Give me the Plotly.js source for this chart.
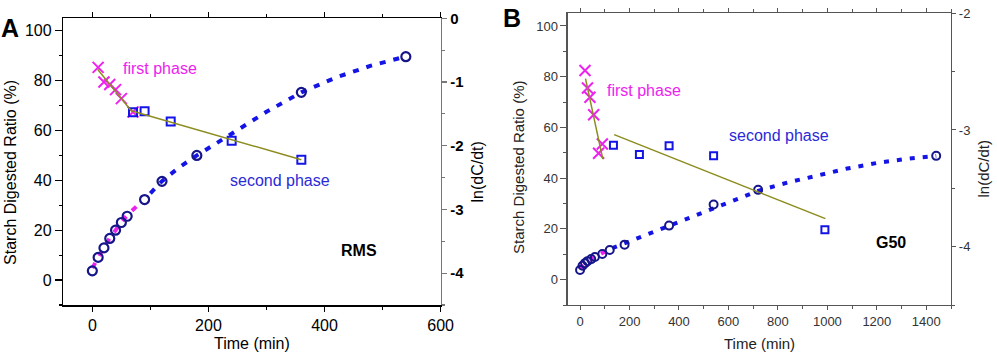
<!DOCTYPE html>
<html>
<head>
<meta charset="utf-8">
<script src="https://cdn.plot.ly/plotly-3.0.1.min.js"></script>
<style>html,body{margin:0;padding:0;background:#fff;}#chart{width:997px;height:352px;}</style>
</head>
<body>
<div id="chart"></div>
<script>
// ---------- Panel A (RMS) ----------
const timeA = [0, 10, 20, 30, 40, 50, 60, 90, 120, 180, 360, 540];
const ratioA = [3.7, 9.1, 12.9, 16.7, 20.0, 23.1, 25.6, 32.3, 39.6, 50.0, 75.3, 89.6];
const fit1TimeA = [0, 10, 20, 30, 40, 50, 60, 70, 85];
const fit1RatioA = [4.8, 9.2, 13.2, 16.8, 20.2, 23.2, 26.0, 28.3, 31.5];
const fit2TimeA = [100, 120, 150, 180, 240, 300, 360, 420, 480, 540];
const fit2RatioA = [34.8, 39.7, 45.3, 50.0, 58.7, 67.5, 75.3, 81.3, 86.0, 89.7];
const crossTimeA = [10, 20, 30, 40, 50, 70];
const crossLnA = [-0.77, -1.0, -1.04, -1.12, -1.26, -1.47];
const squareTimeA = [70, 90, 135, 240, 360];
const squareLnA = [-1.475, -1.46, -1.62, -1.92, -2.22];
const line1TimeA = [9, 67];
const line1LnA = [-0.80, -1.45];
const line2TimeA = [67, 360];
const line2LnA = [-1.45, -2.22];
const rightTicksA = [0, -1, -2, -3, -4];
const rightTickTextA = ['0', '-1', '-2', '-3', '-4'];

// ---------- Panel B (G50) ----------
const timeB = [0, 10, 20, 30, 45, 60, 90, 120, 180, 360, 540, 720, 1440];
const ratioB = [3.8, 5.5, 6.5, 7.3, 8.1, 8.9, 10.1, 11.7, 13.8, 21.3, 29.6, 35.4, 48.8];
const fit1TimeB = [0, 15, 30, 45, 60, 90, 120];
const fit1RatioB = [4.3, 5.9, 7.1, 8.1, 9.0, 10.5, 12.0];
const fit2TimeB = [130, 180, 240, 300, 360, 420, 480, 540, 600, 660, 720, 840, 960, 1080, 1200, 1320, 1440];
const fit2RatioB = [12.4, 14.3, 16.6, 18.9, 21.2, 23.5, 25.8, 28.1, 30.4, 32.7, 35.0, 38.3, 41.2, 43.8, 46.0, 47.6, 48.8];
const crossTimeB = [20, 30, 40, 55, 75, 90];
const crossLnB = [-2.49, -2.64, -2.72, -2.87, -3.20, -3.12];
const squareTimeB = [135, 240, 360, 540, 990];
const squareLnB = [-3.13, -3.21, -3.136, -3.22, -3.855];
const line1TimeB = [22, 92];
const line1LnB = [-2.56, -3.25];
const line2TimeB = [138, 992];
const line2LnB = [-3.04, -3.76];
const rightTicksB = [-2, -3, -4];
const rightTickTextB = ['-2', '-3', '-4'];

const FONT = 'Arial, "Liberation Sans", Helvetica, sans-serif';
const MAG = '#ee22ee';
const BLUE = '#1414e6';
const NAVY = '#16168a';
const OLIVE = '#8c8c1e';

const traces = [
  // A fits
  {x: fit1TimeA, y: fit1RatioA, xaxis: 'x', yaxis: 'y', mode: 'lines', line: {color: MAG, width: 4, dash: '6px,8px'}},
  {x: fit2TimeA, y: fit2RatioA, xaxis: 'x', yaxis: 'y', mode: 'lines', line: {color: BLUE, width: 4, dash: '6px,8px'}},
  {x: timeA, y: ratioA, xaxis: 'x', yaxis: 'y', mode: 'markers', marker: {symbol: 'circle-open', size: 9, color: NAVY, line: {width: 2.2, color: NAVY}}},
  {x: crossTimeA, y: crossLnA, xaxis: 'x', yaxis: 'y2', mode: 'markers', marker: {symbol: 'x-thin-open', size: 11, color: MAG, line: {width: 2, color: MAG}}},
  {x: squareTimeA, y: squareLnA, xaxis: 'x', yaxis: 'y2', mode: 'markers', marker: {symbol: 'square-open', size: 8, color: BLUE, line: {width: 2, color: BLUE}}},
  {x: line1TimeA, y: line1LnA, xaxis: 'x', yaxis: 'y2', mode: 'lines', line: {color: OLIVE, width: 1.5}},
  {x: line2TimeA, y: line2LnA, xaxis: 'x', yaxis: 'y2', mode: 'lines', line: {color: OLIVE, width: 1.5}},
  // B fits
  {x: fit1TimeB, y: fit1RatioB, xaxis: 'x2', yaxis: 'y3', mode: 'lines', line: {color: MAG, width: 4, dash: '5px,8px'}},
  {x: fit2TimeB, y: fit2RatioB, xaxis: 'x2', yaxis: 'y3', mode: 'lines', line: {color: BLUE, width: 4, dash: '5px,8px'}},
  {x: timeB, y: ratioB, xaxis: 'x2', yaxis: 'y3', mode: 'markers', marker: {symbol: 'circle-open', size: 8, color: NAVY, line: {width: 2, color: NAVY}}},
  {x: crossTimeB, y: crossLnB, xaxis: 'x2', yaxis: 'y4', mode: 'markers', marker: {symbol: 'x-thin-open', size: 11, color: MAG, line: {width: 2, color: MAG}}},
  {x: squareTimeB, y: squareLnB, xaxis: 'x2', yaxis: 'y4', mode: 'markers', marker: {symbol: 'square-open', size: 7, color: BLUE, line: {width: 2, color: BLUE}}},
  {x: line1TimeB, y: line1LnB, xaxis: 'x2', yaxis: 'y4', mode: 'lines', line: {color: OLIVE, width: 1.5}},
  {x: line2TimeB, y: line2LnB, xaxis: 'x2', yaxis: 'y4', mode: 'lines', line: {color: OLIVE, width: 1.5}}
];

const axA = {showline: true, linecolor: '#000', linewidth: 1.5, ticks: 'outside', tickcolor: '#000', tickwidth: 1.2,
  showgrid: false, zeroline: false, tickfont: {family: FONT, size: 16, color: '#000'}, fixedrange: true};
const axB = {showline: true, linecolor: '#555', linewidth: 1.2, ticks: 'outside', tickcolor: '#555', tickwidth: 1,
  showgrid: false, zeroline: false, tickfont: {family: FONT, size: 13, color: '#333'}, fixedrange: true};

const layout = {
  width: 997, height: 352,
  margin: {l: 0, r: 0, t: 0, b: 0},
  paper_bgcolor: '#fff', plot_bgcolor: '#fff',
  showlegend: false,
  font: {family: FONT},
  xaxis: Object.assign({}, axA, {domain: [0.0635, 0.442], range: [-50, 600], anchor: 'y', dtick: 200, tick0: 0,
    ticklen: 5, mirror: 'ticks', minor: {dtick: 100, tick0: 0, ticklen: 3, ticks: 'outside', tickcolor: '#000'}}),
  yaxis: Object.assign({}, axA, {domain: [0.1335, 0.948], range: [-10, 105], anchor: 'x', dtick: 20, tick0: 0,
    ticklen: 7, minor: {dtick: 10, tick0: 0, ticklen: 3, ticks: 'outside', tickcolor: '#000'}}),
  yaxis2: Object.assign({}, axA, {overlaying: 'y', side: 'right', anchor: 'x', range: [-4.5, 0],
    tickmode: 'array', tickvals: rightTicksA, ticktext: rightTickTextA, linecolor: '#777', tickcolor: '#777', ticklen: 5,
    tickfont: {family: FONT, size: 15, color: '#000', weight: 'bold'},
    minor: {dtick: 0.5, tick0: 0, ticklen: 3, ticks: 'outside', tickcolor: '#777'}}),
  xaxis2: Object.assign({}, axB, {domain: [0.5694, 0.9539], range: [-50, 1500], anchor: 'y3', dtick: 200, tick0: 0,
    ticklen: 4, mirror: 'ticks', minor: {dtick: 100, tick0: 0, ticklen: 3, ticks: 'outside', tickcolor: '#555'}}),
  yaxis3: Object.assign({}, axB, {domain: [0.1335, 0.9622], range: [-10, 105], anchor: 'x2', dtick: 20, tick0: 0,
    ticklen: 6, minor: {dtick: 10, tick0: 0, ticklen: 3, ticks: 'outside', tickcolor: '#555'}}),
  yaxis4: Object.assign({}, axB, {overlaying: 'y3', side: 'right', anchor: 'x2', range: [-4.5, -2],
    tickmode: 'array', tickvals: rightTicksB, ticktext: rightTickTextB, ticklen: 4,
    minor: {dtick: 0.5, tick0: 0, ticklen: 3, ticks: 'outside', tickcolor: '#555'}}),
  annotations: [
    {text: '<b>A</b>', xref: 'paper', yref: 'paper', x: 0.0105, y: 0.9205, xanchor: 'center', yanchor: 'middle', showarrow: false, font: {family: FONT, size: 25, color: '#000'}},
    {text: '<b>B</b>', xref: 'paper', yref: 'paper', x: 0.5135, y: 0.950, xanchor: 'center', yanchor: 'middle', showarrow: false, font: {family: FONT, size: 25, color: '#000'}},
    {text: 'Starch Digested Ratio (%)', xref: 'paper', yref: 'paper', x: 0.0105, y: 0.51, textangle: -90, xanchor: 'center', yanchor: 'middle', showarrow: false, font: {family: FONT, size: 16, color: '#000'}},
    {text: 'Time (min)', xref: 'paper', yref: 'paper', x: 0.2528, y: 0.024, xanchor: 'center', yanchor: 'middle', showarrow: false, font: {family: FONT, size: 16, color: '#000'}},
    {text: 'ln(dC/dt)', xref: 'paper', yref: 'paper', x: 0.4794, y: 0.5128, textangle: -90, xanchor: 'center', yanchor: 'middle', showarrow: false, font: {family: FONT, size: 16, color: '#000'}},
    {text: 'Starch Digested Ratio (%)', xref: 'paper', yref: 'paper', x: 0.5206, y: 0.523, textangle: -90, xanchor: 'center', yanchor: 'middle', showarrow: false, font: {family: FONT, size: 15, color: '#222'}},
    {text: 'Time (min)', xref: 'paper', yref: 'paper', x: 0.7613, y: 0.024, xanchor: 'center', yanchor: 'middle', showarrow: false, font: {family: FONT, size: 15, color: '#222'}},
    {text: 'ln(dC/dt)', xref: 'paper', yref: 'paper', x: 0.986, y: 0.5213, textangle: -90, xanchor: 'center', yanchor: 'middle', showarrow: false, font: {family: FONT, size: 15, color: '#222'}},
    {text: 'first phase', xref: 'x', yref: 'y', x: 48.7, y: 84.9, xanchor: 'left', yanchor: 'middle', showarrow: false, font: {family: FONT, size: 16, color: MAG}},
    {text: 'second phase', xref: 'x', yref: 'y', x: 234, y: 40, xanchor: 'left', yanchor: 'middle', showarrow: false, font: {family: FONT, size: 16, color: '#2a2ad8'}},
    {text: '<b>RMS</b>', xref: 'x', yref: 'y', x: 460, y: 12, xanchor: 'center', yanchor: 'middle', showarrow: false, font: {family: FONT, size: 16, color: '#000'}},
    {text: 'first phase', xref: 'x2', yref: 'y3', x: 102, y: 74.4, xanchor: 'left', yanchor: 'middle', showarrow: false, font: {family: FONT, size: 16, color: MAG}},
    {text: 'second phase', xref: 'x2', yref: 'y3', x: 594, y: 56.7, xanchor: 'left', yanchor: 'middle', showarrow: false, font: {family: FONT, size: 16, color: '#2a2ad8'}},
    {text: '<b>G50</b>', xref: 'x2', yref: 'y3', x: 1259, y: 14.7, xanchor: 'center', yanchor: 'middle', showarrow: false, font: {family: FONT, size: 16, color: '#000'}}
  ]
};

Plotly.newPlot('chart', traces, layout, {displayModeBar: false, staticPlot: true});
</script>
</body>
</html>
